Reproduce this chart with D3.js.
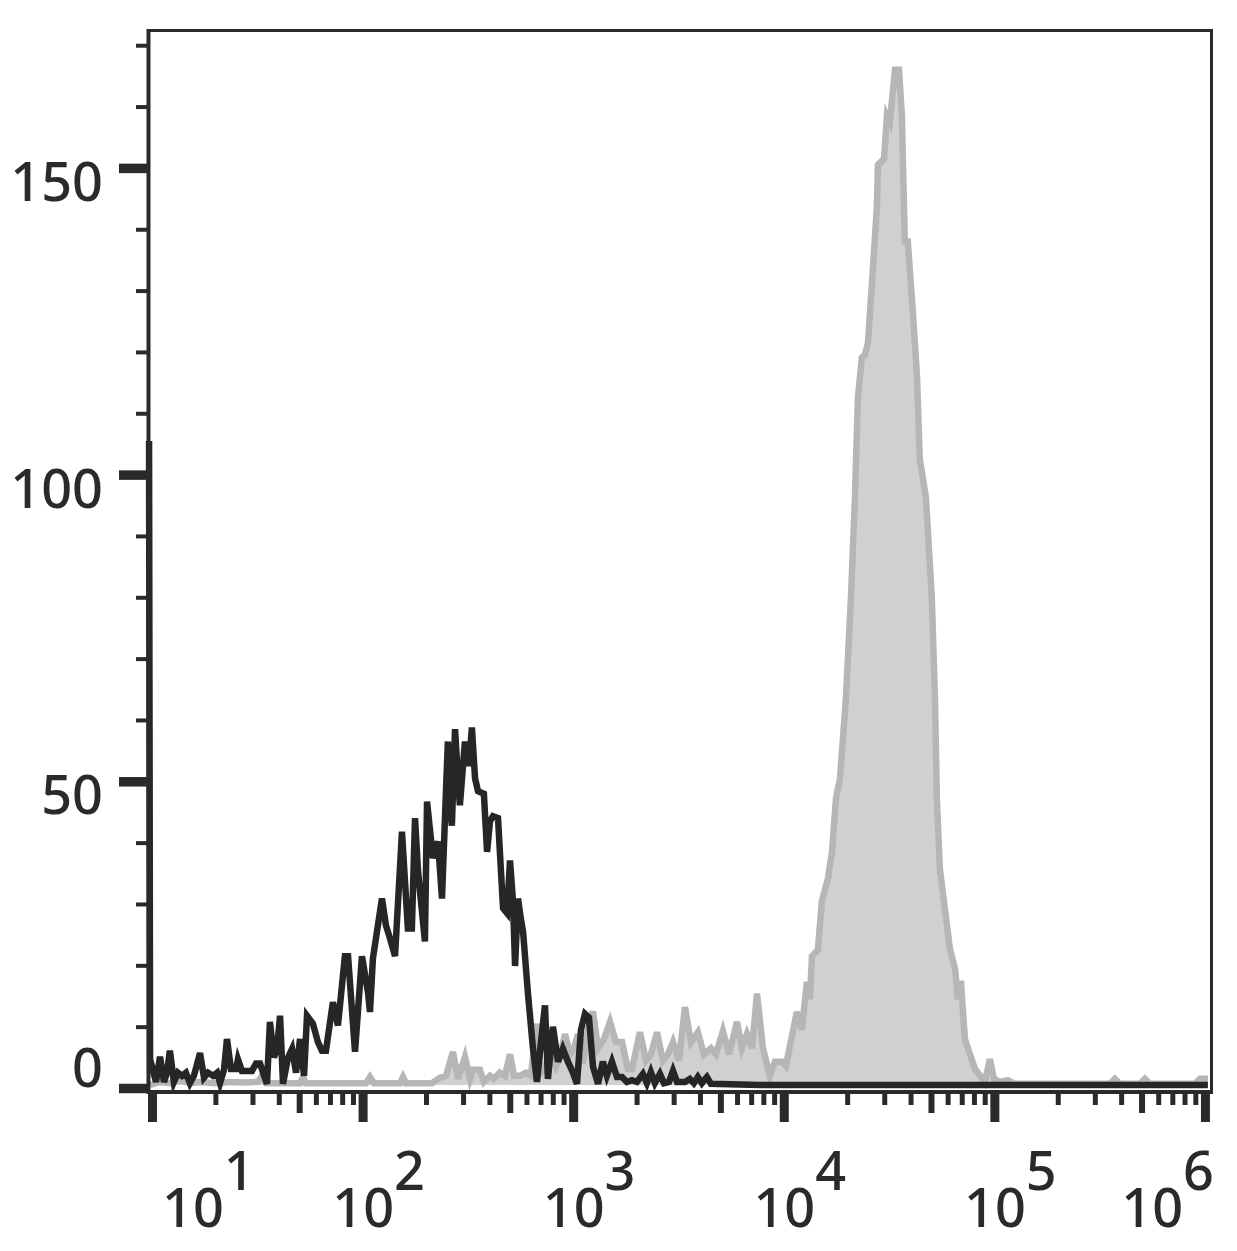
<!DOCTYPE html>
<html>
<head>
<meta charset="utf-8">
<script src="https://cdn.jsdelivr.net/npm/d3@7"></script>
<style>
  html, body { margin: 0; padding: 0; background: #ffffff; }
  svg { display: block; }
</style>
</head>
<body>
<svg id="chart" width="1237" height="1251"></svg>
<script>
// ---- data (x in log10 fluorescence units, y in event counts) ----
const blackLogX = [0.986,0.991,1.000,1.019,1.038,1.057,1.071,1.085,1.104,1.123,1.142,1.161,1.180,1.199,1.228,1.247,1.266,1.290,1.309,1.323,1.342,1.356,1.375,1.399,1.408,1.427,1.451,1.475,1.494,1.513,1.532,1.546,1.560,1.579,1.594,1.608,1.622,1.646,1.665,1.684,1.703,1.722,1.736,1.764,1.788,1.807,1.826,1.859,1.883,1.916,1.931,1.964,1.997,2.026,2.035,2.049,2.092,2.111,2.130,2.154,2.187,2.215,2.234,2.249,2.263,2.277,2.296,2.306,2.334,2.358,2.377,2.396,2.405,2.415,2.424,2.439,2.453,2.462,2.486,2.505,2.519,2.534,2.548,2.576,2.591,2.605,2.619,2.643,2.667,2.686,2.700,2.714,2.724,2.738,2.752,2.762,2.785,2.809,2.828,2.847,2.866,2.880,2.904,2.928,2.951,2.975,2.999,3.018,3.037,3.056,3.075,3.094,3.118,3.141,3.160,3.184,3.208,3.232,3.255,3.279,3.303,3.331,3.350,3.369,3.388,3.412,3.431,3.455,3.474,3.493,3.531,3.554,3.573,3.592,3.611,3.635,3.654,3.887,6.014];
const blackCount = [105,2,3,0.5,4.6,0.5,2,5.6,0.5,2,1.5,2,0.3,1.5,5.2,1.2,2,1.5,2,0.3,2.5,7.5,2.6,2.6,4.2,2.3,2.3,2.3,3.5,3.5,1.5,0.2,10.3,4.5,6,11.3,0.2,4.5,5.9,2,7.5,1.5,11.3,10,7,5.6,5.6,13.5,9.7,21,21,5.4,21,15,11.9,20.6,30.4,26,23.9,21,41.3,25.5,25.5,43.5,35,30,23.4,46.2,37,39.7,30.4,48,56,45,42.3,58,50,45.6,56,52,58.3,50,47.9,47.5,38,43,43.8,43.5,28.8,28,36.6,30,19.4,30.4,27,25,15,6,0.5,7,13,1,9.5,3.8,5.9,3.8,2,0.2,9,11.6,11,3,0.2,3.8,1.5,3.8,1.3,1.3,0.5,0.8,0.5,1.8,0.3,2.1,0.3,1.8,0.3,0.5,2.3,0.5,0.5,1,0.3,1.3,0.3,1.3,0.2,0,0];

const grayLogX = [0.991,1.038,1.085,1.133,1.180,1.228,1.299,1.370,1.442,1.503,1.522,1.541,1.703,1.717,1.731,2.016,2.035,2.054,2.178,2.192,2.206,2.329,2.367,2.396,2.429,2.453,2.486,2.510,2.524,2.557,2.576,2.605,2.624,2.652,2.676,2.700,2.719,2.747,2.776,2.799,2.828,2.847,2.871,2.890,2.918,2.937,2.961,2.985,3.004,3.023,3.046,3.070,3.094,3.118,3.146,3.175,3.203,3.232,3.260,3.279,3.317,3.346,3.369,3.398,3.426,3.450,3.474,3.502,3.531,3.559,3.592,3.621,3.654,3.678,3.711,3.740,3.778,3.801,3.825,3.849,3.873,3.901,3.934,3.958,3.991,4.010,4.039,4.062,4.086,4.110,4.124,4.134,4.162,4.181,4.210,4.229,4.248,4.267,4.295,4.319,4.338,4.352,4.371,4.385,4.400,4.423,4.442,4.447,4.476,4.490,4.504,4.528,4.547,4.561,4.566,4.575,4.589,4.613,4.632,4.646,4.675,4.703,4.718,4.727,4.741,4.789,4.813,4.827,4.841,4.860,4.908,4.955,4.979,4.998,5.026,5.064,5.097,5.549,5.572,5.596,5.691,5.715,5.738,5.952,5.976,6.014];
const grayCount = [0,0.5,0.3,0.8,0.3,0.5,0.3,0.5,0.4,0.5,1.5,0.3,0.3,1.3,0.3,0.3,1.3,0.3,0.3,1.3,0.3,0.3,1.2,1.5,5.4,1,4.6,1,2.5,2.5,0.5,1.5,1,2,1.5,5,1.5,1.5,2,1.5,10,2,3,5.4,3,4.5,8.3,5,6,8.3,3.5,9,12,6,7.5,10.3,7,7,2.6,2.6,8.6,4,5,8.6,4,5,7,4,12.7,7,8.6,5,6,5,8.8,5,10.3,6,8.3,6,14.9,6,1.5,3.8,3.8,3.1,8,11.9,9,16.8,14,21,22,30,33.7,38,46.7,50,63,79.4,95.8,112,118.6,119,121,133,143,150,151,158,157,165.5,165.5,158,150,137.5,137.5,126,116,102,95.8,79.4,63,46.7,35.3,22.2,19,14,17,7.5,2.6,0.5,4.2,1,0.5,0.8,0.2,0.2,1,0.2,0.2,1,0.2,0.2,1,1];

const xMajorTicks = [10, 100, 1000, 10000, 100000, 1000000];
const xTickBase = ["10", "10", "10", "10", "10", "10"];
const xTickExp = ["1", "2", "3", "4", "5", "6"];
const yMajorTicks = [0, 50, 100, 150];
const yMinorTicks = [10, 20, 30, 40, 60, 70, 80, 90, 110, 120, 130, 140, 160, 170];
const yTickLabels = ["0", "50", "100", "150"];

(function () {
  // ---- layout ----
  const pLeft = 148, pRight = 1211.5, pTop = 30.5, zeroY = 1088, axisY = 1092;
  const ink = "#2a2a2a";
  const svg = d3.select("#chart");

  const x = d3.scaleLog().domain([Math.pow(10, 0.981), Math.pow(10, 6.024)]).range([pLeft, 1210]);
  const y = d3.scaleLinear().domain([0, 172.4]).range([zeroY, pTop]);

  const blackData = blackLogX.map((lx, i) => ({ v: Math.pow(10, lx), c: blackCount[i] }));
  const grayData = grayLogX.map((lx, i) => ({ v: Math.pow(10, lx), c: grayCount[i] }));

  const curves = svg.append("g").attr("transform", "translate(0,-3)");

  curves.append("path")
    .datum(grayData)
    .attr("fill", "#d0d0d2")
    .attr("stroke", "none")
    .attr("d", d3.area().x(d => x(d.v)).y0(y(0)).y1(d => y(d.c)));

  curves.append("path")
    .datum(grayData)
    .attr("fill", "none")
    .attr("stroke", "#b6b6b9")
    .attr("stroke-width", 6.5)
    .attr("d", d3.line().x(d => x(d.v)).y(d => y(d.c)));

  curves.append("path")
    .datum(blackData)
    .attr("fill", "none")
    .attr("stroke", "#262626")
    .attr("stroke-width", 6.5)
    .attr("d", d3.line().x(d => x(d.v)).y(d => y(d.c)));

  // ---- frame ----
  svg.append("line").attr("x1", pLeft).attr("x2", pRight + 1.5).attr("y1", pTop).attr("y2", pTop)
    .attr("stroke", ink).attr("stroke-width", 3);
  svg.append("line").attr("x1", pRight).attr("x2", pRight).attr("y1", pTop - 1.5).attr("y2", axisY + 2)
    .attr("stroke", ink).attr("stroke-width", 3);
  svg.append("line").attr("x1", pLeft + 0.5).attr("x2", pLeft + 0.5).attr("y1", pTop - 1.5).attr("y2", axisY + 2)
    .attr("stroke", ink).attr("stroke-width", 4);
  svg.append("line").attr("x1", pLeft - 1).attr("x2", pRight + 1.5).attr("y1", axisY).attr("y2", axisY)
    .attr("stroke", ink).attr("stroke-width", 4);

  // ---- x ticks ----
  const allX = [];
  for (let e = 1; e <= 5; e++) for (let m = 2; m <= 9; m++) allX.push(m * Math.pow(10, e));
  const mant = v => Math.round(v / Math.pow(10, Math.floor(Math.log10(v) + 1e-9)));
  const xMinor = allX.filter(v => mant(v) !== 5);
  const xMid = allX.filter(v => mant(v) === 5);

  function xAxisLayer(values, size, width) {
    const g = svg.append("g").attr("transform", `translate(0,${axisY})`)
      .call(d3.axisBottom(x).tickValues(values).tickSize(size).tickSizeOuter(0).tickFormat(""));
    g.select(".domain").remove();
    g.selectAll(".tick line").attr("stroke", ink).attr("stroke-width", width);
  }
  xAxisLayer(xMinor, 13, 5);
  xAxisLayer(xMid, 21, 6);
  xAxisLayer(xMajorTicks, 30, 9);

  // ---- y ticks ----
  function yAxisLayer(values, size, width) {
    const g = svg.append("g").attr("transform", `translate(${pLeft},0)`)
      .call(d3.axisLeft(y).tickValues(values).tickSize(size).tickSizeOuter(0).tickFormat(""));
    g.select(".domain").remove();
    g.selectAll(".tick line").attr("stroke", ink).attr("stroke-width", width);
  }
  yAxisLayer(yMinorTicks, 12, 4);
  yAxisLayer(yMajorTicks, 29, 9.5);

  // ---- labels ----
  const font = "'Noto Sans', 'Open Sans', sans-serif";
  const fs = 54;

  svg.append("g").selectAll("text").data(yMajorTicks).join("text")
    .attr("x", 103)
    .attr("y", d => d === 0 ? y(d) - 1 : y(d) + 33)
    .attr("text-anchor", "end")
    .attr("font-family", font).attr("font-size", fs).attr("font-weight", 500).attr("fill", ink)
    .text((d, i) => yTickLabels[i]);

  const xl = svg.append("g");
  xMajorTicks.forEach((v, i) => {
    const t = xl.append("text")
      .attr("y", 1227)
      .attr("font-family", font).attr("font-size", fs).attr("font-weight", 500).attr("fill", ink);
    t.append("tspan").text(xTickBase[i]);
    t.append("tspan").attr("dy", -37).text(xTickExp[i]);
    const w = t.node().getComputedTextLength();
    let sx = x(v) + 16 - w / 2;
    sx = Math.max(sx, 162);
    sx = Math.min(sx, 1214 - w);
    t.attr("x", sx);
  });
})();
</script>
</body>
</html>
